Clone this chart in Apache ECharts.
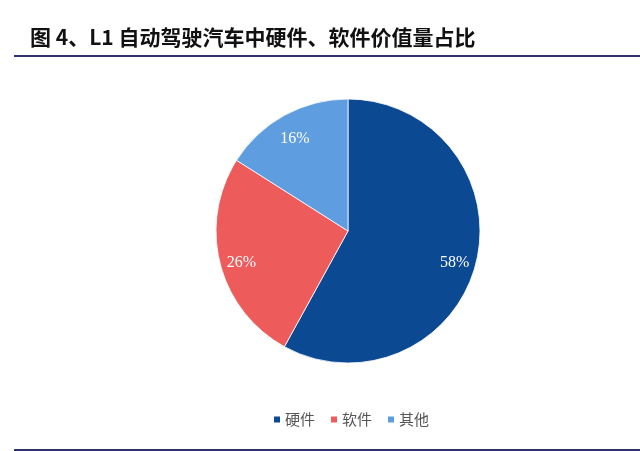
<!DOCTYPE html>
<html><head><meta charset="utf-8">
<script src="https://cdn.jsdelivr.net/npm/echarts@6/dist/echarts.min.js"></script>
<style>html,body{margin:0;padding:0;background:#fff}#c{width:640px;height:451px}</style>
</head><body><div id="c"></div>
<script>
const titleText = '图 4、L1 自动驾驶汽车中硬件、软件价值量占比';
const categories = ['硬件', '软件', '其他'];
const values = [58, 26, 16];
const colors = ['#0b4a93', '#ee5b5b', '#5e9ddf'];

const chart = echarts.init(document.getElementById('c'));
const pieData = categories.map((n, i) => ({ name: n, value: values[i], itemStyle: { color: colors[i] } }));
chart.setOption({
  animation: false,
  backgroundColor: '#fff',
  title: {
    text: titleText, left: 25, top: 22,
    textStyle: { fontFamily: 'Noto Sans CJK SC', fontWeight: 'bold', fontSize: 21, color: '#111' }
  },
  graphic: [
    { type: 'line', shape: { x1: 14, y1: 56, x2: 640, y2: 56 }, style: { stroke: '#2e3468', lineWidth: 2 } },
    { type: 'line', shape: { x1: 14, y1: 450, x2: 640, y2: 450 }, style: { stroke: '#2e3468', lineWidth: 2 } }
  ],
  legend: {
    data: categories, left: 267, top: 407, itemWidth: 8, itemHeight: 8, itemGap: 14, icon: 'rect',
    textStyle: { fontFamily: 'Noto Sans CJK SC', fontSize: 15, color: '#555', padding: [0, 0, 0, -1] }
  },
  series: [
    {
      type: 'pie', center: [348, 231], radius: [0, 132], startAngle: 90, clockwise: true,
      itemStyle: { borderColor: '#fff', borderWidth: 0.8 },
      label: { show: false }, labelLine: { show: false },
      data: pieData
    },
    {
      type: 'pie', center: [348, 231], radius: [82, 132], startAngle: 90, clockwise: true, silent: true,
      legendHoverLink: false,
      itemStyle: { color: 'transparent' },
      label: { show: true, position: 'inside', formatter: '{c}%', color: '#fff', fontSize: 16, fontFamily: 'Liberation Serif', offset: [0, 4] },
      labelLine: { show: false },
      data: categories.map((n, i) => ({ name: n + ' ', value: values[i], itemStyle: { color: 'transparent' } }))
    }
  ]
});
</script></body></html>
